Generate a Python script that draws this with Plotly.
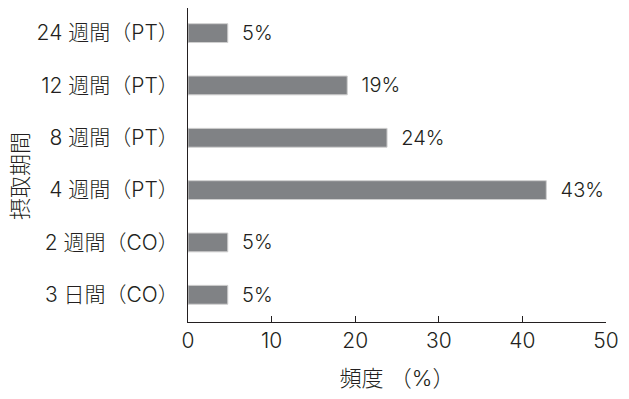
import plotly.graph_objects as go

categories = ["3 日間（CO）", "2 週間（CO）", "4 週間（PT）", "8 週間（PT）", "12 週間（PT）", "24 週間（PT）"]
values = [4.76, 4.76, 42.86, 23.81, 19.05, 4.76]
labels = ["5%", "5%", "43%", "24%", "19%", "5%"]
x_ticks = [0, 10, 20, 30, 40, 50]

FONT = "Inter, Noto Sans CJK JP"
TXT = "#231f20"
W = 300

fig = go.Figure()
fig.add_trace(go.Bar(
    y=categories, x=values, orientation="h",
    marker=dict(color="#808285", line=dict(color="#d0d0d0", width=1)),
    width=0.36,
    text=["  " + t for t in labels], textposition="outside", constraintext="none",
    textfont=dict(family=FONT, size=20, color=TXT, weight=W),
    cliponaxis=False,
))

fig.update_layout(
    width=629, height=399,
    margin=dict(l=188, r=23, t=8, b=77),
    paper_bgcolor="white", plot_bgcolor="white",
    showlegend=False,
    font=dict(family=FONT, color=TXT, weight=W),
    xaxis=dict(
        range=[0, 50], tickvals=x_ticks, ticks="inside", ticklen=6, tickcolor=TXT,
        showline=True, linecolor=TXT, linewidth=1, showgrid=False, zeroline=False,
        tickfont=dict(family=FONT, size=21, color=TXT, weight=W),
        title=dict(text="頻度 （%）", font=dict(family=FONT, size=22, color=TXT, weight=W), standoff=18),
    ),
    yaxis=dict(
        categoryorder="array", categoryarray=categories,
        range=[-0.52, 5.48],
        showline=True, linecolor=TXT, linewidth=1, showgrid=False, zeroline=False,
        ticks="", tickfont=dict(family=FONT, size=21, color=TXT, weight=W), ticklabelstandoff=4,
    ),
    annotations=[dict(
        text="摂取期間", xref="paper", yref="paper", x=-188/418 + 20/418, y=(399-77-176)/314,
        xanchor="center", yanchor="middle", textangle=-90, showarrow=False,
        font=dict(family=FONT, size=22, color=TXT, weight=W),
    )],
)

fig.write_html("out.html")
